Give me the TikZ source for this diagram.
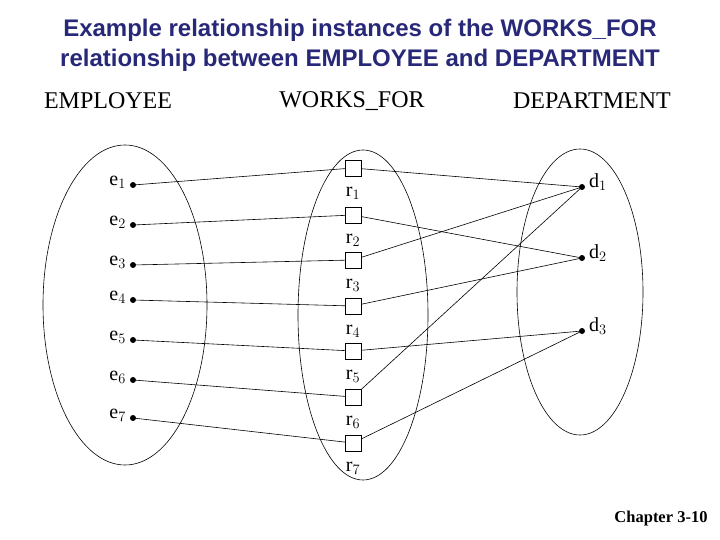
\documentclass[tikz,border=0pt]{standalone}
\usepackage{fontspec}
\setmainfont{Liberation Serif}
\newfontfamily\titlefont{Liberation Sans}
\definecolor{titleblue}{RGB}{40,40,120}
\begin{document}
\begin{tikzpicture}[x=1pt,y=-1pt,
  ent/.style={circle,fill,inner sep=0pt,minimum size=6pt},
  rel/.style={draw,rectangle,inner sep=0pt,minimum size=16pt},
  lab/.style={font=\fontsize{20}{20}\selectfont,inner sep=1pt},
  hdr/.style={font=\fontsize{24}{24}\selectfont},
  ln/.style={line width=0.6pt}]
\useasboundingbox (0,0) rectangle (720,540);
\node[font=\titlefont\bfseries\fontsize{24}{30}\selectfont,text=titleblue,align=center] (title) at (360,45)
 {Example relationship instances of the WORKS\_FOR\\relationship between EMPLOYEE and DEPARTMENT};
\node[hdr] (h1) at (108,101) {EMPLOYEE};
\node[hdr] (h2) at (352,101) {WORKS\_FOR};
\node[hdr] (h3) at (592,101) {DEPARTMENT};
\draw[ln] (125,305) ellipse [x radius=82,y radius=160];
\draw[ln] (363,315) ellipse [x radius=65,y radius=165];
\draw[ln] (580,292) ellipse [x radius=63,y radius=143];
\foreach \i/\y in {1/185,2/225,3/265,4/300,5/340,6/380,7/418}{
  \node[ent] (e\i) at (133,\y) {};
  \node[lab,anchor=east] (el\i) at (127,\y-3) {e$_{\i}$};
}
\foreach \i/\y in {1/168,2/215,3/260,4/306,5/351,6/397,7/443}{
  \node[rel] (r\i) at (353,\y) {};
  \node[lab] (rl\i) at (353,\y+25) {r$_{\i}$};
}
\foreach \i/\y in {1/187,2/258,3/331}{
  \node[ent] (d\i) at (582,\y) {};
  \node[lab,anchor=west] (dl\i) at (588,\y-5) {d$_{\i}$};
}
\foreach \i in {1,...,7}{\draw[ln] (e\i.center) -- (r\i);}
\foreach \a/\b in {1/1,2/2,3/1,4/2,5/3,6/1,7/3}{\draw[ln] (r\a) -- (d\b.center);}
\node[font=\bfseries\fontsize{16.5}{16.5}\selectfont] (ch) at (661,519) {Chapter 3-10};
\end{tikzpicture}
\end{document}
